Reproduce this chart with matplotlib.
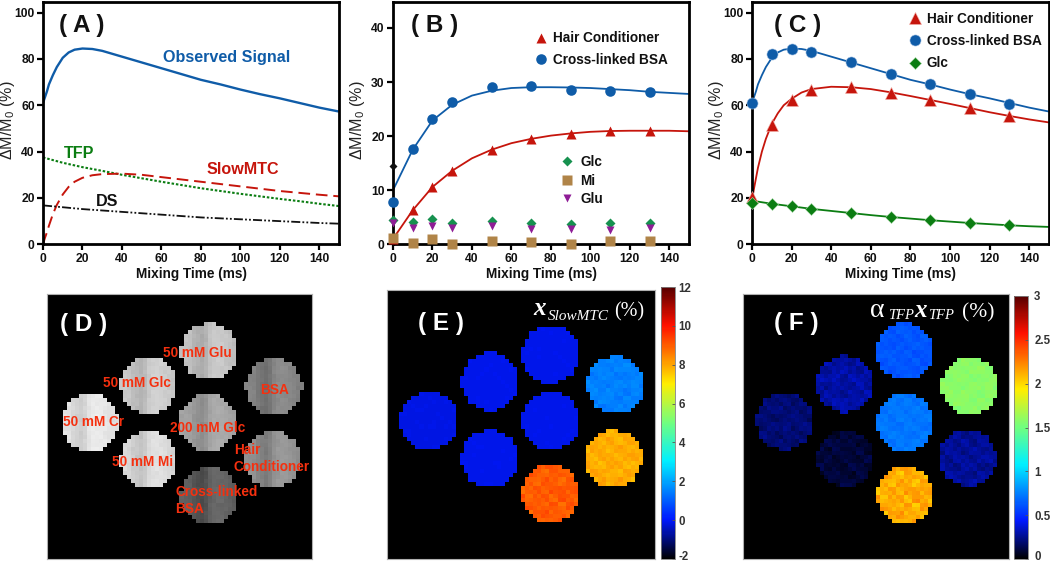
import numpy as np
import matplotlib
matplotlib.use("Agg")
import matplotlib.pyplot as plt
from matplotlib.colors import LinearSegmentedColormap
from matplotlib.transforms import ScaledTranslation

plt.rcParams['font.family'] = ['Liberation Sans', 'DejaVu Sans']
plt.rcParams['mathtext.default'] = 'regular'
plt.rcParams['axes.unicode_minus'] = False

# ---------- Panel A ----------
a_obs_x = [0, 1, 2, 3, 5, 7, 10, 13, 16, 20, 25, 30, 40, 50, 60, 70, 80, 90, 100, 110, 120, 130, 140, 150]
a_obs_y = [61, 63.5, 66, 69, 73, 76.5, 80.5, 82.8, 84, 84.5, 84.3, 83.5, 81, 78.5, 76, 73.5, 71, 69, 66.8, 64.8, 63, 61, 59, 57.3]
a_tfp_x = [0, 10, 20, 30, 40, 50, 60, 70, 80, 90, 100, 110, 120, 130, 140, 150]
a_tfp_y = [37.5, 35.2, 33.3, 31.7, 30, 28.5, 27, 25.6, 24.2, 23, 21.8, 20.7, 19.6, 18.6, 17.5, 16.5]
a_slow_x = [0, 1, 2, 3, 5, 7, 10, 13, 16, 20, 25, 30, 40, 50, 60, 70, 80, 90, 100, 110, 120, 130, 140, 150]
a_slow_y = [0, 2.8, 5.2, 8, 13, 17, 21.5, 24.8, 27, 28.7, 29.8, 30.3, 30.5, 30, 29, 28, 27, 26, 25, 24, 23, 22.2, 21.4, 20.7]
a_ds_x = [0, 20, 40, 60, 80, 100, 120, 140, 150]
a_ds_y = [16.8, 15.2, 14, 12.8, 11.6, 10.8, 10, 9.2, 8.9]

# ---------- Panel B ----------
mix_times = [0, 10, 20, 30, 50, 70, 90, 110, 130]
fit_x = [0, 10, 20, 30, 40, 50, 60, 70, 80, 90, 100, 110, 120, 130, 140, 150]
b_hair_pts = [1.0, 6.4, 10.6, 13.6, 17.5, 19.5, 20.4, 20.9, 21.0]
b_hair_fit = [1, 6.3, 10.6, 13.6, 15.9, 17.5, 18.7, 19.5, 20.1, 20.5, 20.8, 20.95, 21, 21, 21, 20.9]
b_bsa_pts = [7.8, 17.7, 23.2, 26.4, 29.0, 29.3, 28.6, 28.3, 28.1]
b_bsa_fit = [10, 17.5, 22.9, 25.8, 27.5, 28.4, 28.9, 29.05, 29.05, 29, 28.9, 28.7, 28.5, 28.2, 28, 27.8]
b_glc = [4.5, 4.2, 4.6, 4.0, 4.3, 4.0, 3.7, 4.0, 3.9]
b_mi = [1.1, 0.3, 0.9, 0.1, 0.6, 0.4, 0.1, 0.6, 0.7]
b_glu = [3.9, 3.0, 3.3, 3.1, 3.3, 2.9, 2.8, 2.6, 3.0]
b_black_x = [0]
b_black_y = [14.4]

# ---------- Panel C ----------
c_hair_pts = [20.5, 51.5, 62.5, 66.8, 67.8, 65.5, 62.3, 58.9, 55.3]
c_hair_fx = [0, 1, 2, 3, 5, 7, 10, 13, 16, 20, 25, 30, 40, 50, 60, 70, 80, 90, 100, 110, 120, 130, 140, 150]
c_hair_fy = [19, 24, 28.5, 33, 40, 45.5, 52, 56.5, 60, 62.8, 65.5, 67, 68, 67.8, 67, 65.6, 64, 62.3, 60.6, 58.8, 57, 55.4, 53.9, 52.6]
c_bsa_pts = [61, 82, 84.4, 83.2, 78.8, 73.4, 69, 64.7, 60.6]
c_glc_pts = [18, 17.6, 16.5, 15.4, 13.7, 11.8, 10.6, 9.4, 8.4]
c_glc_fit = [18.8, 17.5, 16.4, 15.3, 14.4, 13.5, 12.6, 11.8, 11.1, 10.4, 9.8, 9.2, 8.7, 8.2, 7.8, 7.5]

# ---------- Phantom panels ----------
vial_names = ['Glu', 'BSA', 'Glc', 'Glc200', 'Cr', 'Mi', 'Hair', 'XBSA']
d_centres = [(40.4, 14.4), (56.5, 23.3), (25.4, 22.75), (40.0, 32.0), (10.8, 32.0), (25.4, 41.2), (56.2, 41.2), (40.4, 50.2)]
e_centres = [(40.3, 15.7), (56.3, 23.4), (25.4, 22.5), (40.3, 32.1), (10.4, 32.1), (25.4, 41.4), (55.7, 41.4), (40.3, 50.0)]
f_centres = [(40.2, 14.3), (56.2, 23.0), (25.3, 22.5), (40.2, 32.0), (10.4, 31.6), (25.3, 40.9), (55.7, 40.7), (40.2, 50.0)]
d_values = [0.74, 0.50, 0.77, 0.62, 0.87, 0.83, 0.55, 0.36]
e_values = [-0.1, 1.5, -0.1, -0.1, -0.15, -0.1, 7.9, 9.0]
f_values = [0.62, 1.58, 0.28, 0.72, 0.20, 0.10, 0.26, 2.12]
d_spread = [0.05] * 8
e_spread = [0.02, 0.22, 0.02, 0.02, 0.02, 0.02, 0.28, 0.32]
f_spread = [0.04, 0.05, 0.06, 0.04, 0.05, 0.05, 0.06, 0.11]
d_columns = [0.0, 0.3, 0.4, 0.2, -0.6, -1.0, -1.4, -0.8, 0.4, 0.9, 1.0, 0.9, 0.6, 0.3, 0.0, 0.0]
texture = [
    [0.5, -0.8, 1.0, 0.2, -0.5, 0.9, -1.0, 0.3],
    [-0.3, 0.7, -1.0, 0.6, 0.1, -0.7, 0.8, -0.2],
    [1.0, -0.4, 0.3, -0.9, 0.8, 0.2, -0.6, 0.5],
    [-0.7, 0.2, 0.8, -0.2, -1.0, 0.6, 0.4, -0.9],
    [0.3, 0.9, -0.6, 1.0, 0.4, -0.3, -0.8, 0.7],
    [-1.0, 0.4, 0.1, -0.7, 0.9, -0.5, 1.0, -0.1],
    [0.6, -0.2, -0.9, 0.5, -0.4, 1.0, 0.2, -0.8],
    [-0.5, 1.0, 0.6, -0.1, 0.7, -0.9, -0.3, 0.4],
]
grid_size = 66
vial_radius = 7.1
d_labels = [('50 mM Glu', 29.0, 14.6), ('BSA', 53.0, 23.8), ('50 mM Glc', 14.0, 22.2), ('200 mM Glc', 30.6, 33.4),
            ('50 mM Cr', 3.9, 31.9), ('50 mM Mi', 16.3, 41.8), ('Hair', 46.5, 38.9), ('Conditioner', 46.5, 43.0),
            ('Cross-linked', 32.0, 49.4), ('BSA', 32.0, 53.6)]
e_ticks = [-2, 0, 2, 4, 6, 8, 10, 12]
f_ticks = [0, 0.5, 1, 1.5, 2, 2.5, 3]
f_ticklabels = ['0', '0.5', '1', '1.5', '2', '2.5', '3']

BLUE, RED, GREEN = '#0f5ca8', '#c6150c', '#0b7d12'
TXT = '#111111'

W, H = 1050, 564
fig = plt.figure(figsize=(W / 100, H / 100), dpi=100, facecolor='white')


def add_axes(x0, x1, y0, y1):
    return fig.add_axes([x0 / W, 1 - y1 / H, (x1 - x0) / W, (y1 - y0) / H])


def style_plot(ax, ymax, yticks, letter, lx):
    ax.set_xlim(0, 150)
    ax.set_ylim(0, ymax)
    ax.set_xticks(range(0, 150, 20))
    ax.set_yticks(yticks)
    ax.tick_params(width=1.6, length=4, labelsize=8.7, pad=2, color='black', labelcolor=TXT)
    for lab in ax.get_xticklabels() + ax.get_yticklabels():
        lab.set_fontweight('bold')
    for s in ax.spines.values():
        s.set_linewidth(2.0)
    ax.set_xlabel('Mixing Time (ms)', fontsize=9.8, fontweight='bold', labelpad=2, color=TXT)
    ax.set_ylabel('ΔM/M$_0$ (%)', fontsize=11.6, color='#222222')
    ax.yaxis.set_label_coords(-0.088, 0.51)
    ax.text(lx, 0.90, '( %s )' % letter, transform=ax.transAxes, fontsize=17.5, fontweight='bold',
            color='#111111', ha='left', va='center')


# Panel A
axA = add_axes(43, 339, 1.5, 244.3)
axA.plot(a_obs_x, a_obs_y, color=BLUE, lw=1.7, solid_capstyle='butt')
axA.plot(a_tfp_x, a_tfp_y, color=GREEN, lw=1.5, ls=(0, (1.2, 0.9)))
axA.plot(a_slow_x, a_slow_y, color=RED, lw=1.4, ls=(0, (6, 3)))
axA.plot(a_ds_x, a_ds_y, color='#111111', lw=1.3, ls=(0, (5, 1.2, 1, 1.2, 1, 1.2)))
style_plot(axA, 104.8, [0, 20, 40, 60, 80, 100], 'A', 0.055)
axA.annotate('Observed Signal', (61, 80.5), fontsize=11.6, fontweight='bold', color=BLUE, va='center')
axA.annotate('TFP', (10.5, 39.3), fontsize=11.6, fontweight='bold', color=GREEN, va='center')
axA.annotate('SlowMTC', (83, 32.3), fontsize=11.6, fontweight='bold', color=RED, va='center')
axA.annotate('DS', (27, 18.3), fontsize=11.6, fontweight='bold', color='#111111', va='center')

# Panel B
axB = add_axes(393, 689, 1.5, 244.3)
axB.plot(fit_x, b_hair_fit, color=RED, lw=1.3)
axB.plot(fit_x, b_bsa_fit, color=BLUE, lw=1.3)
h_tri, = axB.plot(mix_times, b_hair_pts, '^', color=RED, ms=7.4, mec='none', label='Hair Conditioner', clip_on=False, zorder=3)
h_cir, = axB.plot(mix_times, b_bsa_pts, 'o', color=BLUE, ms=7.6, mec='none', label='Cross-linked BSA', clip_on=False, zorder=3)
h_glc, = axB.plot(mix_times, b_glc, 'D', color='#16914f', ms=4.6, mec='none', label='Glc', clip_on=False, zorder=3)
h_glu, = axB.plot(mix_times, b_glu, 'v', color='#8f1d96', ms=6.4, mec='none', label='Glu', clip_on=False, zorder=3)
h_mi, = axB.plot(mix_times, b_mi, 's', color='#b08448', ms=6.6, mec='none', label='Mi', clip_on=False, zorder=3)
axB.plot(b_black_x, b_black_y, 'D', color='#111111', ms=4, mec='none', clip_on=False, zorder=3)
style_plot(axB, 44.9, [0, 10, 20, 30, 40], 'B', 0.06)
lg1 = axB.legend(handles=[h_tri, h_cir], loc='upper left', bbox_to_anchor=(0.448, 0.905), frameon=False,
                 prop={'size': 9.8, 'weight': 'bold'}, labelspacing=0.55, handletextpad=0.3, handlelength=1.2,
                 borderpad=0, labelcolor=TXT)
axB.add_artist(lg1)
axB.legend(handles=[h_glc, h_mi, h_glu], loc='upper left', bbox_to_anchor=(0.538, 0.395), frameon=False,
           prop={'size': 9.8, 'weight': 'bold'}, labelspacing=0.33, handletextpad=0.35, handlelength=1.2,
           borderpad=0, labelcolor=TXT)

# Panel C
axC = add_axes(752, 1049, 1.5, 244.3)
axC.plot(c_hair_fx, c_hair_fy, color=RED, lw=1.3)
axC.plot(a_obs_x, a_obs_y, color=BLUE, lw=1.3)
axC.plot(fit_x, c_glc_fit, color=GREEN, lw=1.3)
t2, = axC.plot(mix_times, c_hair_pts, '^', color=RED, ms=8.6, mec='#f3b0a8', mew=0.4, clip_on=False, label='Hair Conditioner', zorder=3)
c2, = axC.plot(mix_times, c_bsa_pts, 'o', color=BLUE, ms=8.0, mec='#a8c4e4', mew=0.4, clip_on=False, label='Cross-linked BSA', zorder=3)
d2, = axC.plot(mix_times, c_glc_pts, 'D', color=GREEN, ms=5.8, mec='#a8d8a8', mew=0.4, clip_on=False, label='Glc', zorder=3)
style_plot(axC, 104.8, [0, 20, 40, 60, 80, 100], 'C', 0.075)
axC.legend(handles=[t2, c2, d2], loc='upper left', bbox_to_anchor=(0.497, 0.985), frameon=False,
           prop={'size': 9.8, 'weight': 'bold'}, labelspacing=0.6, handletextpad=0.3, handlelength=1.2,
           borderpad=0, labelcolor=TXT)


# Phantom images
def phantom(centres, values, spread, columns=None):
    img = np.full((grid_size, grid_size), np.nan)
    tile = np.array(texture)
    rows, cols = np.mgrid[0:grid_size, 0:grid_size]
    for k, ((cx, cy), val, sp) in enumerate(zip(centres, values, spread)):
        inside = (cols + 0.5 - cx) ** 2 + (rows + 0.5 - cy) ** 2 <= vial_radius ** 2
        r_in, c_in = np.nonzero(inside)
        for r, c in zip(r_in, c_in):
            t = 0.6 * tile[(r // 2 + k) % 8, (c // 2 + 3 * k) % 8] + 0.4 * tile[(r + k) % 8, (c + 3 * k) % 8]
            v = val + sp * t * (0.35 if columns is not None else 1.0)
            if columns is not None:
                idx = int(np.clip(c - int(cx - 8), 0, len(columns) - 1))
                v += sp * columns[idx]
            img[r, c] = v
    return img


jetk = LinearSegmentedColormap.from_list('jetk', [(0, '#000000'), (0.145, '#0018ff'), (0.36, '#00f0ff'),
                                                  (0.50, '#70ff80'), (0.645, '#ffee00'), (0.86, '#ff1000'),
                                                  (1, '#560000')], N=256)
jetk.set_bad('black')
gray = plt.get_cmap('gray').copy()
gray.set_bad('black')


def show(ax, img, cmap, vmin, vmax):
    im = ax.imshow(img, cmap=cmap, vmin=vmin, vmax=vmax, interpolation='nearest',
                   extent=(0, grid_size, grid_size, 0), aspect='auto')
    ax.set_xticks([])
    ax.set_yticks([])
    for s in ax.spines.values():
        s.set_linewidth(0.8)
        s.set_color('#b0b0b0')
    return im


def panel_letter(ax, letter, x, y):
    ax.text(x, y, '( %s )' % letter, transform=ax.transAxes, fontsize=17.5, color='white', fontweight='bold',
            ha='left', va='center')


def px_text(x, y, s, size, style='normal', weight='normal', family='Liberation Serif'):
    fig.text(x / W, 1 - y / H, s, color='white', fontsize=size, style=style, fontweight=weight,
             family=family, va='baseline', ha='left')


axD = add_axes(47, 312, 294, 559)
show(axD, phantom(d_centres, d_values, d_spread, d_columns), gray, 0, 1)
panel_letter(axD, 'D', 0.05, 0.885)
for s, x, y in d_labels:
    axD.text(x, y, s, color='#f5300f', fontsize=9.8, fontweight='bold', ha='left', va='center')

axE = add_axes(387, 655, 290, 559)
imE = show(axE, phantom(e_centres, e_values, e_spread), jetk, -2, 12)
panel_letter(axE, 'E', 0.115, 0.875)
px_text(533, 315, 'x', 18, 'italic', 'bold')
px_text(548, 320, 'SlowMTC', 11, 'italic')
px_text(614, 316, '(%)', 14.5)
caxE = add_axes(661, 675, 287, 559)
cbE = fig.colorbar(imE, cax=caxE, ticks=e_ticks)

axF = add_axes(743, 1009, 294, 559)
imF = show(axF, phantom(f_centres, f_values, f_spread), jetk, 0, 3)
panel_letter(axF, 'F', 0.115, 0.89)
px_text(870, 317, 'α', 20)
px_text(888, 319, 'TFP', 10.5, 'italic')
px_text(914, 317, 'x', 18, 'italic', 'bold')
px_text(928, 319, 'TFP', 10.5, 'italic')
px_text(962, 317, '(%)', 15.5)
caxF = add_axes(1014, 1028, 296, 559)
cbF = fig.colorbar(imF, cax=caxF, ticks=f_ticks)
cbF.ax.set_yticklabels(f_ticklabels)

for cb, pad in ((cbE, 2.5), (cbF, 4.5)):
    cb.outline.set_linewidth(0.6)
    cb.outline.set_edgecolor('#808080')
    cb.ax.tick_params(length=2.5, width=0.6, direction='in', labelsize=8.3, pad=pad, labelcolor='#333333', color='#555555')
    labs = cb.ax.get_yticklabels()
    for lab in labs:
        lab.set_fontweight('bold')
    # lift the lowest label slightly so it stays inside the canvas
    labs[0].set_transform(labs[0].get_transform() + ScaledTranslation(0, 3 / 72 * 72 / 100, fig.dpi_scale_trans))

fig.savefig('out.png', dpi=100, facecolor='white')
